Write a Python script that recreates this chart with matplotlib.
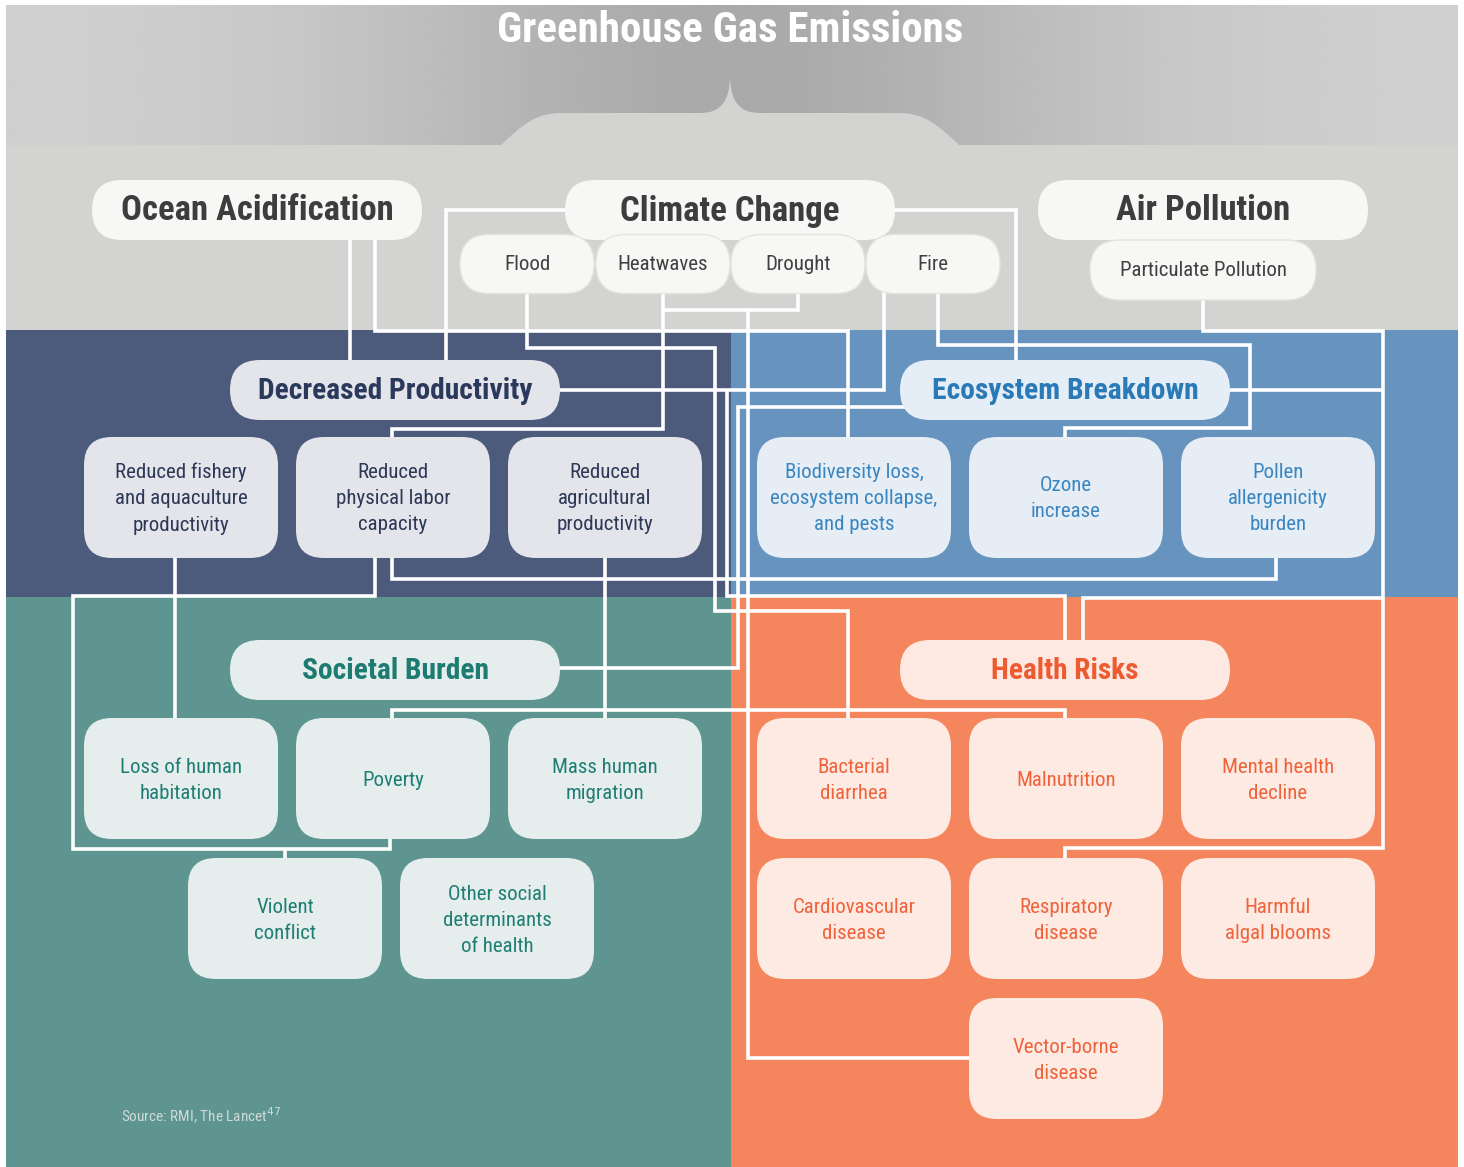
import numpy as np
import matplotlib
matplotlib.use("Agg")
import matplotlib.pyplot as plt
import matplotlib.font_manager as fm
from matplotlib.patches import FancyBboxPatch, Rectangle, PathPatch
from matplotlib.path import Path

# ---- chart content ----
title = "Greenhouse Gas Emissions"
sources = ["Ocean Acidification", "Climate Change", "Air Pollution"]
hazards = ["Flood", "Heatwaves", "Drought", "Fire"]
air_sub = "Particulate Pollution"
categories = ["Decreased Productivity", "Ecosystem Breakdown", "Societal Burden", "Health Risks"]
productivity = ["Reduced fishery\nand aquaculture\nproductivity", "Reduced\nphysical labor\ncapacity",
                "Reduced\nagricultural\nproductivity"]
ecosystem = ["Biodiversity loss,\necosystem collapse,\nand pests", "Ozone\nincrease",
             "Pollen\nallergenicity\nburden"]
societal = ["Loss of human\nhabitation", "Poverty", "Mass human\nmigration", "Violent\nconflict",
            "Other social\ndeterminants\nof health"]
health = ["Bacterial\ndiarrhea", "Malnutrition", "Mental health\ndecline", "Cardiovascular\ndisease",
          "Respiratory\ndisease", "Harmful\nalgal blooms", "Vector-borne\ndisease"]
source_note = "Source: RMI, The Lancet$^{47}$"

# pick a narrow font if one is there
names = {f.name for f in fm.fontManager.ttflist}
FONT = "DejaVu Sans"
for cand in ["Roboto Condensed", "Liberation Sans Narrow", "Open Sans Condensed", "Noto Sans Condensed", "Roboto", "Lato"]:
    if cand in names:
        FONT = cand
        break
plt.rcParams["font.family"] = [FONT, "DejaVu Sans"]

fig = plt.figure(figsize=(14.64, 11.67), dpi=100)
ax = fig.add_axes([0, 0, 1, 1])
ax.set_xlim(0, 1464)
ax.set_ylim(1167, 0)
ax.axis("off")

# ---- background ----
xs = np.linspace(-1, 1, 400)
grad = 0.815 - 0.15 * np.exp(-(xs / 0.5) ** 2)
img = np.tile(grad, (60, 1))
ax.imshow(img, cmap="gray", vmin=0, vmax=1, extent=[6, 1458, 146, 5], aspect="auto", zorder=0)
ax.add_patch(Rectangle((6, 145), 1452, 186, fc="#d3d3d1", ec="none", zorder=1))
bump = Path([(500, 146), (522, 125), (535, 113), (562, 113), (700, 113),
             (722, 113), (729, 100), (730, 78), (731, 100), (738, 113), (760, 113),
             (898, 113), (925, 113), (938, 125), (960, 146), (500, 146)],
            [Path.MOVETO, Path.CURVE4, Path.CURVE4, Path.CURVE4, Path.LINETO,
             Path.CURVE4, Path.CURVE4, Path.CURVE4, Path.CURVE4, Path.CURVE4, Path.CURVE4,
             Path.LINETO, Path.CURVE4, Path.CURVE4, Path.CURVE4, Path.CLOSEPOLY])
ax.add_patch(PathPatch(bump, fc="#d3d3d1", ec="none", zorder=1))
ax.add_patch(Rectangle((6, 330), 725, 267, fc="#4c5b7c", ec="none", zorder=1))
ax.add_patch(Rectangle((731, 330), 727, 267, fc="#6793bf", ec="none", zorder=1))
ax.add_patch(Rectangle((6, 597), 725, 570, fc="#5e9590", ec="none", zorder=1))
ax.add_patch(Rectangle((731, 597), 727, 570, fc="#f4855c", ec="none", zorder=1))

# ---- connectors ----
links = [
    [(350, 240), (350, 362)],
    [(375, 240), (375, 331), (848, 331), (848, 440)],
    [(580, 210), (446, 210), (446, 362)],
    [(880, 210), (1016, 210), (1016, 362)],
    [(527, 290), (527, 348), (715, 348), (715, 611), (848, 611), (848, 720)],
    [(663, 290), (663, 429), (392, 429), (392, 440)],
    [(798, 290), (798, 310), (663, 310)],
    [(748, 310), (748, 1058), (975, 1058)],
    [(884, 290), (884, 390), (540, 390)],
    [(938, 290), (938, 345), (1250, 345), (1250, 428), (1065, 428), (1065, 440)],
    [(1203, 298), (1203, 331), (1383, 331), (1383, 848), (1065, 848), (1065, 860)],
    [(1210, 390), (1383, 390)],
    [(1383, 598), (1083, 598), (1083, 645)],
    [(727, 390), (727, 596), (1065, 596), (1065, 645)],
    [(920, 407), (738, 407), (738, 668), (540, 668)],
    [(175, 555), (175, 720)],
    [(392, 555), (392, 579), (1276, 579), (1276, 555)],
    [(375, 555), (375, 596), (73, 596), (73, 849), (390, 849), (390, 835)],
    [(285, 849), (285, 860)],
    [(605, 555), (605, 720)],
    [(392, 720), (392, 710), (1065, 710), (1065, 720)],
]
for pts in links:
    p = np.array(pts)
    ax.plot(p[:, 0], p[:, 1], color="white", lw=2.6, solid_joinstyle="miter",
            solid_capstyle="butt", zorder=2)


def box(cx, cy, w, h, r, fc, ec="none", z=3):
    ax.add_patch(FancyBboxPatch((cx - w / 2, cy - h / 2), w, h,
                                boxstyle=f"round,pad=0,rounding_size={r}",
                                fc=fc, ec=ec, lw=1.0, zorder=z))


texts = []


def label(cx, cy, s, size, color, weight="normal", maxw=None):
    t = ax.text(cx, cy, s, ha="center", va="center", multialignment="center",
                fontsize=size, color=color, fontweight=weight, linespacing=1.5, zorder=6)
    texts.append((t, maxw))
    return t


# title
label(730, 30, title, 31, "white", "bold", 470)

# sources
src_x = [257, 730, 1203]
src_w = [272, 224, 174]
for s, x, mw in zip(sources, src_x, src_w):
    box(x, 210, 330, 60, 30, "#f7f7f5")
    label(x, 211, s, 25, "#3d3d3d", "bold", mw)

hz_x = [527, 663, 798, 933]
for s, x in zip(hazards, hz_x):
    box(x, 264, 134, 59, 29.5, "#f7f7f5", ec="#e4e4e2", z=4)
    label(x, 265, s, 15, "#404040", maxw=100)
box(1203, 270, 226, 60, 30, "#f7f7f5", ec="#e4e4e2", z=4)
label(1203, 271, air_sub, 15, "#404040", maxw=172)

# category pills
cat_pos = [(395, 390), (1065, 390), (395, 670), (1065, 670)]
cat_fill = ["#e4e5eb", "#e5edf6", "#e5eeed", "#fde9e2"]
cat_col = ["#2b3a5c", "#2a7ab8", "#1d7b71", "#ef5b31"]
cat_w = [276, 268, 188, 148]
for s, (x, y), fc, col, mw in zip(categories, cat_pos, cat_fill, cat_col, cat_w):
    box(x, y, 330, 60, 30, fc)
    label(x, y + 1, s, 23, col, "bold", mw)

# item boxes
BW, BH, BR = 194, 121, 28
colL = [181, 393, 605]
colR = [854, 1066, 1278]
rows = [497.5, 778.5, 918.5, 1058.5]

for s, x in zip(productivity, colL):
    box(x, rows[0], BW, BH, BR, "#e4e5eb")
    label(x, rows[0] + 1, s, 15, "#2d3756", maxw=176)
for s, x in zip(ecosystem, colR):
    box(x, rows[0], BW, BH, BR, "#e6edf5")
    label(x, rows[0] + 1, s, 15, "#3a86c1", maxw=176)

soc_pos = [(colL[0], rows[1]), (colL[1], rows[1]), (colL[2], rows[1]), (285, rows[2]), (497, rows[2])]
for s, (x, y) in zip(societal, soc_pos):
    box(x, y, BW, BH, BR, "#e5eeed")
    label(x, y + 2, s, 15, "#1f7e74", maxw=176)

hl_pos = [(colR[0], rows[1]), (colR[1], rows[1]), (colR[2], rows[1]),
          (colR[0], rows[2]), (colR[1], rows[2]), (colR[2], rows[2]), (colR[1], rows[3])]
for s, (x, y) in zip(health, hl_pos):
    box(x, y, BW, BH, BR, "#fdeae3")
    label(x, y + 2, s, 15, "#f0633a", maxw=176)

ax.text(121, 1116, source_note, ha="left", va="center", fontsize=11, color="#cfdad8", zorder=6)

# shrink any text that runs wider than the original
renderer = fig.canvas.get_renderer()
for t, mw in texts:
    if mw is None:
        continue
    w = t.get_window_extent(renderer).width
    if w > mw:
        t.set_fontsize(t.get_fontsize() * mw / w)

fig.savefig("out.png", dpi=100, facecolor="white")
